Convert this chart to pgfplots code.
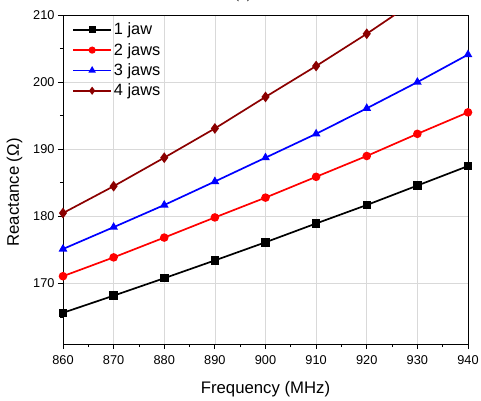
\documentclass[border=0pt]{standalone}
\usepackage{fontspec}
\setmainfont{Liberation Sans}
\newfontfamily\seriffont{Liberation Serif}
\usepackage{pgfplots}
\usetikzlibrary{calc}
\pgfplotsset{compat=1.18}
\definecolor{darkred}{RGB}{139,0,0}
\begin{document}
\begin{tikzpicture}
\begin{axis}[
  scale only axis, width=405bp, height=329bp,
  xmin=860, xmax=940, ymin=161, ymax=210,
  xtick={860,870,...,940}, ytick={170,180,190,200,210},
  minor xtick={865,875,...,935}, minor ytick={165,175,...,205},
  tick align=outside, tick pos=left,
  major tick length=5bp, minor tick length=3bp,
  grid=major, grid style={gray!30, line width=0.6pt},
  axis line style={line width=0.9pt},
  every tick/.style={black, line width=0.8pt},
  ticklabel style={font=\fontsize{12.8}{14}\selectfont},
  xticklabel style={yshift=-3bp},
  /pgf/number format/assume math mode=true,
  /pgf/number format/1000 sep={},
  xlabel={Frequency (MHz)}, ylabel={Reactance (Ω)},
  label style={font=\fontsize{16.8}{19}\selectfont},
  xlabel style={yshift=-10bp},
  ylabel style={yshift=4bp, xshift=-13bp},
  legend style={at={(0.02,0.985)}, anchor=north west, draw=none, fill=none,
    font=\fontsize{16.4}{18}\selectfont, row sep=3bp, inner sep=1pt},
  legend cell align=left,
  legend image code/.code={\draw[#1, mark size=2.7bp, mark repeat=2, mark phase=2] plot coordinates {(0bp,0bp) (19bp,0bp) (38bp,0bp)};},
  every axis plot/.append style={line width=1.7bp, mark size=3.4bp},
]
\addplot[black, mark=square*] coordinates {(860,165.65) (870,168.2) (880,170.8) (890,173.45) (900,176.15) (910,178.95) (920,181.7) (930,184.6) (940,187.5)};
\addlegendentry{1 jaw}
\addplot[red, mark=*] coordinates {(860,171.1) (870,173.9) (880,176.85) (890,179.85) (900,182.8) (910,185.9) (920,189.0) (930,192.3) (940,195.5)};
\addlegendentry{2 jaws}
\addplot[blue, mark=triangle*] coordinates {(860,175.15) (870,178.4) (880,181.7) (890,185.2) (900,188.75) (910,192.3) (920,196.1) (930,200.0) (940,204.1)};
\addlegendentry{3 jaws}
\addplot[darkred, mark=diamond*, mark size=4bp] coordinates {(860,180.5) (870,184.5) (880,188.75) (890,193.1) (900,197.8) (910,202.4) (920,207.2) (930,212.3) (940,217.5)};
\addlegendentry{4 jaws}
\end{axis}
\node[font=\seriffont\fontsize{16}{18}\selectfont, anchor=base] at ($(current axis.south west)+(180bp,345.5bp)$) {(a)};
\pgfresetboundingbox
\path (current axis.south west) ++(-63bp,-57bp) rectangle ++(481bp,401bp);
\end{tikzpicture}
\end{document}
